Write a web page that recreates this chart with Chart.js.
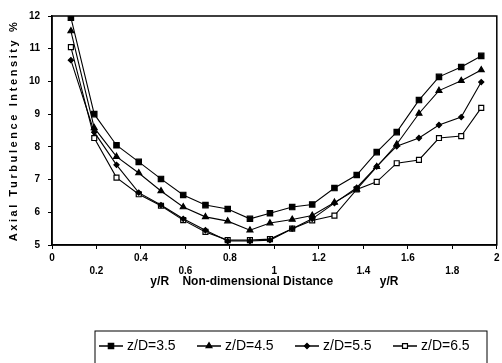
<!DOCTYPE html>
<html>
<head>
<meta charset="utf-8">
<script src="https://cdn.jsdelivr.net/npm/chart.js@4.4.1/dist/chart.umd.min.js"></script>
<style>
  html, body { margin: 0; padding: 0; background: #fff; }
  #wrap { width: 502px; height: 363px; position: relative; }
</style>
</head>
<body>
<div id="wrap"><canvas id="turb"></canvas></div>
<script>
/* radial positions y/R where each profile was sampled */
var yR = [0.085, 0.19, 0.29, 0.39, 0.49, 0.59, 0.69, 0.79, 0.89, 0.98,
          1.08, 1.17, 1.27, 1.37, 1.46, 1.55, 1.65, 1.74, 1.84, 1.93];

/* axial turbulence intensity (%) per downstream station */
var zD35 = [11.95, 9.0, 8.05, 7.54, 7.02, 6.53, 6.22, 6.1, 5.8, 5.97,
            6.16, 6.24, 6.74, 7.14, 7.84, 8.45, 9.43, 10.14, 10.44, 10.78];
var zD45 = [11.54, 8.58, 7.7, 7.2, 6.65, 6.16, 5.86, 5.73, 5.45, 5.67,
            5.78, 5.9, 6.3, 6.7, 7.39, 8.08, 9.02, 9.72, 10.02, 10.35];
var zD55 = [10.65, 8.45, 7.45, 6.6, 6.22, 5.8, 5.45, 5.12, 5.12, 5.15,
            5.5, 5.8, 6.28, 6.75, 7.4, 8.02, 8.27, 8.67, 8.91, 9.98];
var zD65 = [11.05, 8.27, 7.06, 6.55, 6.2, 5.76, 5.4, 5.15, 5.15, 5.18,
            5.5, 5.75, 5.9, 6.7, 6.93, 7.5, 7.6, 8.27, 8.33, 9.19];

var seriesLabels = ["z/D=3.5", "z/D=4.5", "z/D=5.5", "z/D=6.5"];

var yTicks = [5, 6, 7, 8, 9, 10, 11, 12];
var xTicks = [0, 0.2, 0.4, 0.6, 0.8, 1, 1.2, 1.4, 1.6, 1.8, 2];
var xTickText = ["0", "0.2", "0.4", "0.6", "0.8", "1", "1.2", "1.4", "1.6", "1.8", "2"];

var yTitle = "Axial Turbulence Intensity %";

var FONT = "'Liberation Sans Narrow','Liberation Sans',Arial,sans-serif";

function pts(vals) {
  return vals.map(function(v, i) { return { x: yR[i], y: v }; });
}

var styles = [
  { pointStyle: "rect", radius: 3.8, fill: "#000" },
  { pointStyle: "triangle", radius: 3.4, fill: "#000" },
  { pointStyle: "rectRot", radius: 2.6, fill: "#000" },
  { pointStyle: "rect", radius: 3.5, fill: "#fff" }
];

var datasets = [zD35, zD45, zD55, zD65].map(function(vals, i) {
  var s = styles[i];
  return {
    label: seriesLabels[i],
    data: pts(vals),
    showLine: true,
    borderColor: "#000",
    borderWidth: 1.1,
    pointStyle: s.pointStyle,
    pointRadius: s.radius,
    pointBackgroundColor: s.fill,
    pointBorderColor: "#000",
    pointBorderWidth: 1.2,
    tension: 0
  };
});

/* frame round the plot, the spaced-out y title and the boxed legend */
var framePlugin = {
  id: "frameAndLegend",
  afterDraw: function(chart) {
    var ctx = chart.ctx, a = chart.chartArea;
    ctx.save();
    ctx.strokeStyle = "#000";
    ctx.lineWidth = 1.5;
    ctx.strokeRect(a.left, a.top, a.right - a.left, a.bottom - a.top);

    // y title, letter-spaced along the axis
    ctx.save();
    ctx.translate(14, (a.top + a.bottom) / 2);
    ctx.rotate(-Math.PI / 2);
    ctx.font = "bold 11px " + FONT;
    ctx.letterSpacing = "2.6px";
    ctx.fillStyle = "#000";
    ctx.textAlign = "center";
    ctx.textBaseline = "middle";
    ctx.fillText(yTitle, 0, 0);
    ctx.restore();

    // legend box, its lower edge runs off the bottom
    var bx = 95, by = 331, bw = 392, bh = 34;
    ctx.lineWidth = 1;
    ctx.strokeRect(bx, by, bw, bh);

    var x = bx + 4, cy = by + 15;
    ctx.font = "14px " + FONT;
    ctx.textBaseline = "middle";
    chart.data.datasets.forEach(function(ds) {
      ctx.beginPath();
      ctx.strokeStyle = "#000";
      ctx.lineWidth = 1.5;
      ctx.moveTo(x, cy);
      ctx.lineTo(x + 24, cy);
      ctx.stroke();
      ctx.fillStyle = ds.pointBackgroundColor;
      ctx.lineWidth = 1.2;
      Chart.helpers.drawPoint(ctx, { pointStyle: ds.pointStyle, radius: ds.pointRadius, borderWidth: 1.2 }, x + 12, cy);
      ctx.fillStyle = "#000";
      ctx.fillText(ds.label, x + 28, cy);
      x += 98;
    });
    ctx.restore();
  }
};

new Chart(document.getElementById("turb"), {
  type: "scatter",
  data: { datasets: datasets },
  options: {
    responsive: true,
    maintainAspectRatio: false,
    animation: false,
    layout: { padding: { left: 0, top: 16, right: 4, bottom: 73 } },
    plugins: { legend: { display: false }, tooltip: { enabled: false } },
    scales: {
      x: {
        type: "linear",
        min: 0, max: 2,
        afterBuildTicks: function(scale) {
          scale.ticks = xTicks.map(function(v) { return { value: v }; });
        },
        afterFit: function(scale) { scale.height = 45; },
        grid: { drawOnChartArea: false, drawTicks: true, tickLength: 4, color: "#000", lineWidth: 1 },
        border: { display: true, color: "#000", width: 1.5 },
        ticks: {
          autoSkip: false, maxRotation: 0, padding: 2,
          color: "#000",
          font: { family: FONT, size: 10, weight: "bold", lineHeight: 1.35 },
          callback: function(v, i) {
            var t = xTickText[i];
            return i % 2 === 0 ? [t, ""] : ["", t];
          }
        },
        title: {
          display: true,
          text: "y/R    Non-dimensional Distance              y/R",
          color: "#000",
          font: { family: FONT, size: 12, weight: "bold" },
          padding: { top: 0, bottom: 1 }
        }
      },
      y: {
        type: "linear",
        min: 5, max: 12,
        afterBuildTicks: function(scale) {
          scale.ticks = yTicks.map(function(v) { return { value: v }; });
        },
        afterFit: function(scale) { scale.width = 52; },
        grid: { drawOnChartArea: false, drawTicks: true, tickLength: 4, color: "#000", lineWidth: 1 },
        border: { display: true, color: "#000", width: 1.5 },
        ticks: {
          padding: 8, color: "#000",
          font: { family: FONT, size: 10, weight: "bold" }
        },
        title: { display: false }
      }
    }
  },
  plugins: [framePlugin]
});
</script>
</body>
</html>
